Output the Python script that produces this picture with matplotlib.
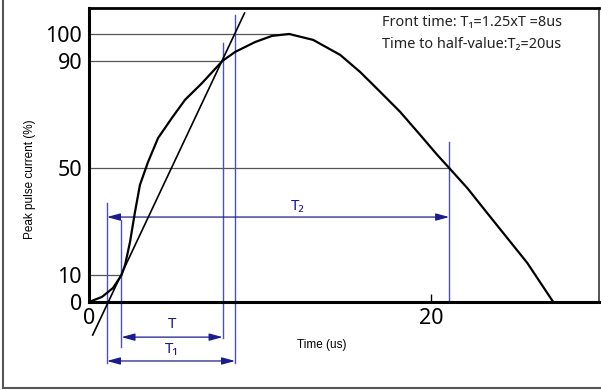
import matplotlib.pyplot as plt
from matplotlib.lines import Line2D

plt.rcParams['font.family'] = ['Noto Sans', 'DejaVu Sans']

# impulse waveform (time in us, current in % of peak)
t_us = [0, 0.76, 1.40, 1.90, 2.11, 2.40, 2.69, 2.98, 3.45, 4.04, 4.85, 5.61,
        6.61, 7.81, 8.54, 9.71, 10.70, 11.70, 13.10, 14.68, 15.85, 17.02,
        18.19, 19.36, 20.35, 21.05, 22.11, 23.27, 24.44, 25.61, 27.13]
i_pct = [0, 1.9, 5.2, 10.0, 13.8, 22.4, 33.6, 43.7, 52.2, 61.2, 68.7, 75.4,
         81.7, 90.0, 93.3, 97.0, 99.3, 100, 97.8, 92.2, 85.8, 78.4,
         70.9, 62.3, 54.9, 50, 42.5, 33.2, 23.9, 14.6, 0]

# straight line through the 10% and 90% points
tan_t = [0.22, 9.09]
tan_i = [-12.3, 107.8]

y_ticks = [0, 10, 50, 90, 100]
x_ticks = [0, 20]

# level lines and the time where each one meets the curve
levels = [100, 90, 50, 10]
level_ends = [11.70, 7.81, 21.05, 1.90]

# vertical marker lines: time, lower end, upper end
mark_t = [1.05, 1.90, 7.81, 8.54, 21.05]
mark_lo = [-22.8, -16.8, -13.4, -22.8, 0]
mark_hi = [36.9, 30.6, 96.6, 107.1, 59.7]

# dimension arrows
dim_names = ['T', 'T₁', 'T₂']
dim_start = [1.90, 1.05, 1.05]
dim_end = [7.81, 8.54, 21.05]
dim_level = [-13.1, -22.0, 31.7]
dim_label_t = [4.85, 4.85, 12.2]
dim_label_i = [-8.4, -17.6, 35.6]

line_blue = '#5050b8'
dark_blue = '#1c1c90'

fig = plt.figure(figsize=(6.01, 3.90), dpi=100)
ax = fig.add_axes([0.148, 0.2256, 0.8486, 0.7539])
ax.set_xlim(0, 29.8)
ax.set_ylim(0, 109.7)

for lvl, end in zip(levels, level_ends):
    ax.plot([0, end], [lvl, lvl], color='#555555', lw=0.9, zorder=1)

for t, lo, hi in zip(mark_t, mark_lo, mark_hi):
    ax.plot([t, t], [lo, hi], color=line_blue, lw=1.0, clip_on=False, zorder=2)

for name, a, b, lvl, lx, ly in zip(dim_names, dim_start, dim_end, dim_level,
                                   dim_label_t, dim_label_i):
    ax.annotate('', xy=(a, lvl), xytext=(b, lvl), annotation_clip=False,
                arrowprops=dict(arrowstyle='<|-|>,head_length=0.8,head_width=0.22',
                                color=dark_blue, lw=0.9, shrinkA=0, shrinkB=0,
                                mutation_scale=10))
    ax.text(lx, ly, name, color=dark_blue, fontsize=11, ha='center', va='center')

ax.plot(tan_t, tan_i, color='black', lw=1.2, clip_on=False, zorder=3)
ax.plot(t_us, i_pct, color='black', lw=1.6, zorder=4, solid_joinstyle='round')

ax.set_yticks(y_ticks)
ax.set_xticks(x_ticks)
ax.tick_params(axis='y', length=0, pad=5, labelsize=15.5)
ax.tick_params(axis='x', direction='in', length=6, width=1, pad=4, labelsize=15.5)

for side in ['left', 'bottom']:
    ax.spines[side].set_linewidth(2.2)
ax.spines['top'].set_linewidth(2.0)
ax.spines['right'].set_linewidth(1.3)
ax.spines['right'].set_color('#444444')

fig.text(30 / 601, 1 - 179 / 390, 'Peak pulse current (%)', rotation=90,
         ha='center', va='center', fontsize=8.5,
         family=['Liberation Sans', 'DejaVu Sans'])
fig.text(322 / 601, 1 - 345 / 390, 'Time (us)', ha='center', va='center',
         fontsize=8.5, family=['Liberation Sans', 'DejaVu Sans'])

fig.text(382 / 601, 1 - 23 / 390, 'Front time: T₁=1.25xT =8us', ha='left',
         va='center', fontsize=10.4, color='#222222')
fig.text(382 / 601, 1 - 45 / 390, 'Time to half-value:T₂=20us', ha='left',
         va='center', fontsize=10.4, color='#222222')

# outer frame (left and bottom edges visible in the crop)
fig.add_artist(Line2D([3 / 601, 3 / 601], [1.0, 1 - 388 / 390],
                      transform=fig.transFigure, color='#555555', lw=1.5))
fig.add_artist(Line2D([3 / 601, 1.0], [1 - 388 / 390, 1 - 388 / 390],
                      transform=fig.transFigure, color='#555555', lw=1.5))

fig.savefig('out.png', dpi=100)
